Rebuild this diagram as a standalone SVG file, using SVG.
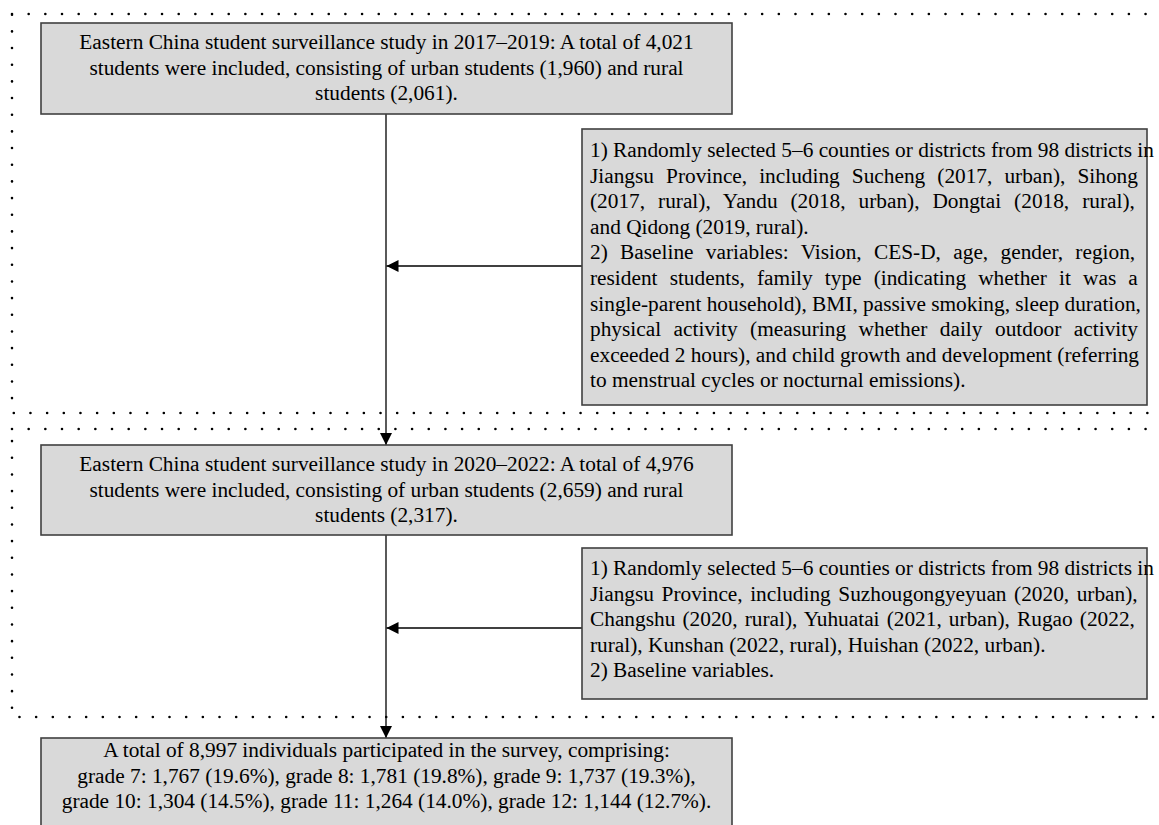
<svg xmlns="http://www.w3.org/2000/svg" width="1159" height="825" viewBox="0 0 1159 825">
<style>
.box{fill:#d9d9d9;stroke:#404040;stroke-width:1.6}
.t{font-family:"Liberation Serif","Times New Roman",serif;font-size:21.33px;fill:#000}
.c{text-anchor:middle}
.ln{stroke:#000;stroke-width:1.3;fill:none}
.dots{fill:none;stroke:#000;stroke-width:2.6;stroke-linecap:round;stroke-dasharray:0 16.67}
</style>
<defs>
<marker id="arr" markerUnits="userSpaceOnUse" markerWidth="12" markerHeight="12" refX="12" refY="6" orient="auto">
<path d="M0,0 L12,6 L0,12 Z" fill="#000"/>
</marker>
</defs>
<rect width="1159" height="825" fill="#fff"/>
<g id="frames">
<rect class="dots" x="12" y="14" width="1160" height="399"/>
<rect class="dots" x="12" y="429" width="1160" height="288"/>
</g>
<g id="connectors">
<line class="ln" x1="386" y1="114" x2="386" y2="445" marker-end="url(#arr)"/>
<line class="ln" x1="386" y1="535" x2="386" y2="738" marker-end="url(#arr)"/>
<line class="ln" x1="582" y1="266" x2="386.5" y2="266" marker-end="url(#arr)"/>
<line class="ln" x1="582" y1="628" x2="386.5" y2="628" marker-end="url(#arr)"/>
</g>
<g id="node1">
<rect class="box" x="41" y="23" width="691" height="91"/>
<text class="t c" x="386.5" y="49">Eastern China student surveillance study in 2017–2019: A total of 4,021</text>
<text class="t c" x="386.5" y="74.6">students were included, consisting of urban students (1,960) and rural</text>
<text class="t c" x="386.5" y="100.2">students (2,061).</text>
</g>
<g id="node2">
<rect class="box" x="582" y="129" width="565" height="276"/>
<text class="t" x="590" y="157">1) Randomly selected 5–6 counties or districts from 98 districts in</text>
<text class="t" x="590" y="182.6" style="word-spacing:6.7px">Jiangsu Province, including Sucheng (2017, urban), Sihong</text>
<text class="t" x="590" y="208.2" style="word-spacing:7.6px">(2017, rural), Yandu (2018, urban), Dongtai (2018, rural),</text>
<text class="t" x="590" y="233.8">and Qidong (2019, rural).</text>
<text class="t" x="590" y="259.4" style="word-spacing:7px">2) Baseline variables: Vision, CES-D, age, gender, region,</text>
<text class="t" x="590" y="285" style="word-spacing:6.8px">resident students, family type (indicating whether it was a</text>
<text class="t" x="590" y="310.6">single-parent household), BMI, passive smoking, sleep duration,</text>
<text class="t" x="590" y="336.2" style="word-spacing:7.2px">physical activity (measuring whether daily outdoor activity</text>
<text class="t" x="590" y="361.8">exceeded 2 hours), and child growth and development (referring</text>
<text class="t" x="590" y="387.4">to menstrual cycles or nocturnal emissions).</text>
</g>
<g id="node3">
<rect class="box" x="41" y="445" width="691" height="90"/>
<text class="t c" x="386.5" y="471">Eastern China student surveillance study in 2020–2022: A total of 4,976</text>
<text class="t c" x="386.5" y="496.6">students were included, consisting of urban students (2,659) and rural</text>
<text class="t c" x="386.5" y="522.2">students (2,317).</text>
</g>
<g id="node4">
<rect class="box" x="582" y="548" width="565" height="151"/>
<text class="t" x="590" y="575">1) Randomly selected 5–6 counties or districts from 98 districts in</text>
<text class="t" x="590" y="600.6" style="word-spacing:2.2px">Jiangsu Province, including Suzhougongyeyuan (2020, urban),</text>
<text class="t" x="590" y="626.2" style="word-spacing:1.8px">Changshu (2020, rural), Yuhuatai (2021, urban), Rugao (2022,</text>
<text class="t" x="590" y="651.8">rural), Kunshan (2022, rural), Huishan (2022, urban).</text>
<text class="t" x="590" y="677.4">2) Baseline variables.</text>
</g>
<g id="node5">
<rect class="box" x="41" y="738" width="691" height="95"/>
<text class="t c" x="386.5" y="757">A total of 8,997 individuals participated in the survey, comprising:</text>
<text class="t c" x="386.5" y="782.6">grade 7: 1,767 (19.6%), grade 8: 1,781 (19.8%), grade 9: 1,737 (19.3%),</text>
<text class="t c" x="386.5" y="808.2">grade 10: 1,304 (14.5%), grade 11: 1,264 (14.0%), grade 12: 1,144 (12.7%).</text>
</g>
</svg>
